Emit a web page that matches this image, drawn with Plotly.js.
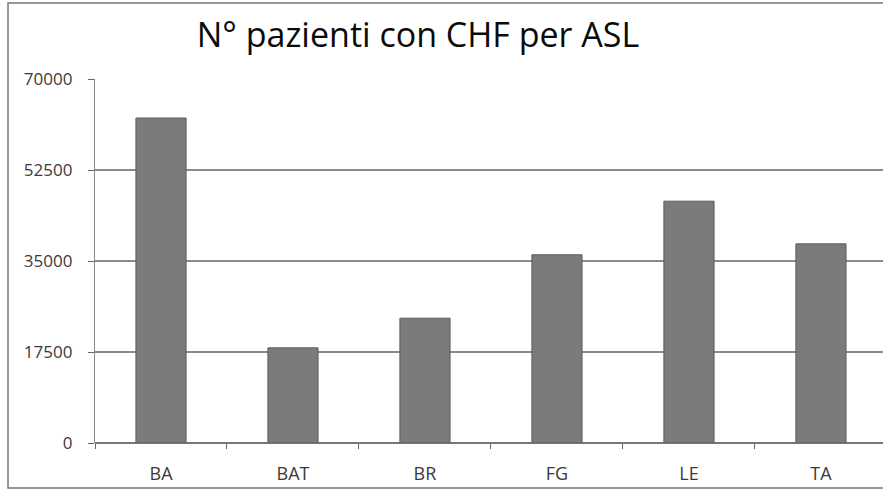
<!DOCTYPE html>
<html>
<head>
<meta charset="utf-8">
<script src="https://cdn.plot.ly/plotly-3.0.1.min.js"></script>
<style>html,body{margin:0;padding:0;background:#fff;}#chart{width:883px;height:490px;}</style>
</head>
<body>
<div id="chart"></div>
<script>
const categories = ["BA", "BAT", "BR", "FG", "LE", "TA"];
const patients = [62500, 18300, 24000, 36200, 46500, 38300];
const yTicks = [0, 17500, 35000, 52500, 70000];
const titleText = "N° pazienti con CHF per ASL";

const trace = {
  type: "bar",
  x: categories,
  y: patients,
  marker: {color: "#7b7b7b", line: {color: "#5e5e5e", width: 1}},
  hoverinfo: "x+y"
};

const layout = {
  width: 883, height: 490,
  margin: {l: 95, r: 0, t: 79, b: 47, pad: 0},
  paper_bgcolor: "#ffffff",
  plot_bgcolor: "#ffffff",
  showlegend: false,
  bargap: 0.62,
  title: {
    text: titleText,
    font: {family: "'Open Sans', sans-serif", size: 34, color: "#0a0a0a"},
    x: 418/883, xanchor: "center", xref: "container",
    y: 1 - 35/490, yanchor: "middle", yref: "container"
  },
  xaxis: {
    type: "category",
    range: [-0.5, 5.47],
    tickson: "boundaries",
    ticks: "outside", ticklen: 5, tickcolor: "#666", tickwidth: 1,
    showline: false,
    showgrid: false,
    tickfont: {family: "'Open Sans', sans-serif", size: 18, color: "#3a3a3a"},
    ticklabelstandoff: 18,
    fixedrange: true
  },
  yaxis: {
    range: [0, 70000],
    tickvals: yTicks,
    ticktext: yTicks.map(String),
    ticks: "outside", ticklen: 6, tickcolor: "#666", tickwidth: 1,
    showgrid: true, gridcolor: "#8a8a8a", gridwidth: 1.5,
    zeroline: true, zerolinecolor: "#777", zerolinewidth: 1.5,
    showline: true, linecolor: "#888", linewidth: 1.2,
    tickfont: {family: "'Open Sans', sans-serif", size: 17, color: "#3a3a3a"},
    ticklabelstandoff: 12,
    fixedrange: true
  },
  shapes: [{
    type: "rect", xref: "paper", yref: "paper",
    x0: -87/788, x1: 1.02, y0: -45/364, y1: 1 + 76/364,
    line: {color: "#777", width: 1.5}, fillcolor: "rgba(0,0,0,0)", layer: "below"
  }]
};

Plotly.newPlot("chart", [trace], layout, {displayModeBar: false, staticPlot: true});
</script>
</body>
</html>
